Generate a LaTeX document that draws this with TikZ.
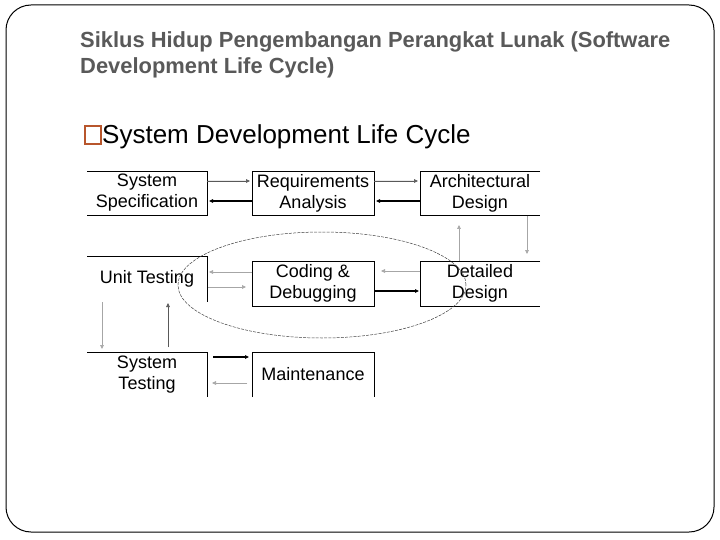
\documentclass[tikz,border=0pt]{standalone}
\usepackage{fontspec}
\setmainfont{Liberation Sans}
\usetikzlibrary{arrows.meta,calc}
\definecolor{titlegray}{RGB}{89,89,89}
\definecolor{bulletorange}{RGB}{184,86,44}
\begin{document}
\begin{tikzpicture}[x=1pt,y=-1pt,
  lbl/.style={inner sep=0pt, outer sep=0pt, align=center, font=\fontsize{18}{21}\selectfont, text=black},
  boxline/.style={draw=black, line width=0.9pt},
  tip/.style={-{Triangle[length=4pt,width=3.6pt]}},
  lightarr/.style={tip, draw=black!35, fill=black!35, line width=0.6pt},
  midarr/.style={tip, draw=black!65, fill=black!65, line width=0.6pt},
  boldarr/.style={tip, draw=black, fill=black, line width=1.1pt},
  loop/.style={draw=black!75, line width=0.5pt, dash pattern=on 3pt off 1.2pt},
  titletext/.style={anchor=base west, inner sep=0pt, text=titlegray, font=\fontsize{21.9}{26}\selectfont\bfseries}
]
\useasboundingbox (0,0) rectangle (720,540);
% slide frame
\draw[line width=1pt, rounded corners=25pt] (6,5) rectangle (714,532);
% title
\node[titletext] (title1) at (80,48) {Siklus Hidup Pengembangan Perangkat Lunak (Software};
\node[titletext] (title2) at (80,74) {Development Life Cycle)};
% bullet
\node[draw=bulletorange, line width=1.3pt, minimum width=16pt, minimum height=18pt, inner sep=0pt] (bullet) at (93,135) {};
\node[anchor=base west, inner sep=0pt, font=\fontsize{26}{30}\selectfont] (bullettext) at (102,144) {System Development Life Cycle};
% boxes
\node[lbl, minimum width=120pt, minimum height=44pt] (ss) at (147,193) {System\\Specification};
\node[lbl, boxline, minimum width=122pt, minimum height=44pt] (ra) at (313,193) {Requirements\\Analysis};
\node[lbl, minimum width=120pt, minimum height=44pt] (ad) at (480,193) {Architectural\\Design};
\node[lbl, minimum width=120pt, minimum height=46pt] (ut) at (147,279) {Unit Testing};
\node[lbl, boxline, minimum width=122pt, minimum height=45pt] (cd) at (313,283.5) {Coding \&\\Debugging};
\node[lbl, minimum width=120pt, minimum height=45pt] (dd) at (480,283.5) {Detailed\\Design};
\node[lbl, minimum width=120pt, minimum height=45pt] (st) at (147,374.5) {System\\Testing};
\node[lbl, minimum width=122pt, minimum height=45pt] (mt) at (313,374.5) {Maintenance};
% partial box outlines
\draw[boxline] (ss.north west) -- (ss.north east) -- (ss.south east) -- (ss.south west);
\draw[boxline] (ad.north east) -- (ad.north west) -- (ad.south west) -- (ad.south east);
\draw[boxline] (ut.north west) -- (ut.north east) -- (ut.south east);
\draw[boxline] (dd.north east) -- (dd.north west) -- (dd.south west) -- (dd.south east);
\draw[boxline] (st.north west) -- (st.north east) -- (st.south east);
\draw[boxline] (mt.south west) -- (mt.north west) -- (mt.north east) -- (mt.south east);
% connectors
\draw[midarr]  ($(ss.north east)+(0,10)$) -- ($(ra.north west)+(-2,10)$);
\draw[boldarr] ($(ra.north west)+(0,30)$) -- ($(ss.north east)+(2,30)$);
\draw[midarr]  ($(ra.north east)+(0,10)$) -- ($(ad.north west)+(-2,10)$);
\draw[boldarr] ($(ad.north west)+(0,30)$) -- ($(ra.north east)+(2,30)$);
\draw[lightarr] ($(ad.south west)+(107,1)$) -- ($(dd.north west)+(107,-7)$);
\draw[lightarr] ($(dd.north west)+(39,0)$) -- ($(ad.south west)+(39,10)$);
\draw[lightarr] ($(dd.north west)+(0,10)$) -- ($(cd.north east)+(7,10)$);
\draw[boldarr] ($(cd.north east)+(0,30)$) -- ($(dd.north west)+(-1,30)$);
\draw[lightarr] ($(cd.north west)+(0,11)$) -- ($(ut.north east)+(2,16)$);
\draw[lightarr] ($(ut.north east)+(1,31)$) -- ($(cd.north west)+(-6,26)$);
\draw[lightarr] ($(ut.north west)+(15,46)$) -- ($(st.north west)+(15,-3)$);
\draw[midarr]  ($(st.north west)+(81,-5)$) -- ($(ut.north west)+(81,47)$);
\draw[boldarr] ($(st.north east)+(6,5)$) -- ($(mt.north west)+(-3,5)$);
\draw[lightarr] ($(mt.north west)+(-5,31)$) -- ($(st.north east)+(5,31)$);
% dashed loop around coding/testing/design
\draw[loop] (322,285) ellipse [x radius=144pt, y radius=53pt];
\end{tikzpicture}
\end{document}
